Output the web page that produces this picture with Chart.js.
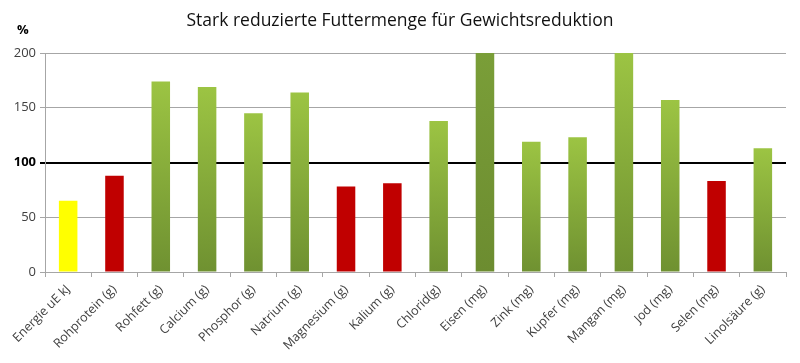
<!DOCTYPE html>
<html lang="de">
<head>
    <meta charset="UTF-8">
    <title>Stark reduzierte Futtermenge</title>
    <style>
        body { margin: 0; padding: 0; background: #fff; }
        #wrap { width: 800px; height: 363px; }
    </style>
</head>
<body>
    <div id="wrap"><canvas id="chart" width="800" height="363"></canvas></div>
    <script src="https://cdn.jsdelivr.net/npm/chart.js@4/dist/chart.umd.min.js"></script>
    <script>
        const categories = ['Energie uE kJ', 'Rohprotein (g)', 'Rohfett (g)', 'Calcium (g)', 'Phosphor (g)',
            'Natrium (g)', 'Magnesium (g)', 'Kalium (g)', 'Chlorid(g)', 'Eisen (mg)', 'Zink (mg)',
            'Kupfer (mg)', 'Mangan (mg)', 'Jod (mg)', 'Selen (mg)', 'Linolsäure (g)'];
        const percentValues = [65, 88, 174, 169, 145, 164, 78, 81, 138, 200, 119, 123, 200, 157, 83, 113];
        const yTicks = [0, 50, 100, 150, 200];
        // kind of bar: energy / below need / above need / above need (dark)
        const barKinds = ['energy', 'low', 'high', 'high', 'high', 'high', 'low', 'low',
            'high', 'dark', 'high', 'high', 'high', 'high', 'low', 'high'];

        const fontFamily = '"Open Sans", "DejaVu Sans", sans-serif';

        function barColor(ctx) {
            const kind = barKinds[ctx.dataIndex];
            if (kind === 'energy') return '#ffff00';
            if (kind === 'low') return '#c00000';
            const chart = ctx.chart;
            const y = chart.scales && chart.scales.y;
            if (!y || ctx.type !== 'data') return '#86a83f';
            const top = y.getPixelForValue(ctx.raw);
            const base = y.getPixelForValue(0);
            if (!isFinite(top) || !isFinite(base) || top === base) return '#86a83f';
            const g = chart.ctx.createLinearGradient(0, top, 0, base);
            if (kind === 'dark') {
                g.addColorStop(0, '#7a9e38');
                g.addColorStop(1, '#6c8c30');
            } else {
                g.addColorStop(0, '#9cc443');
                g.addColorStop(1, '#6f9131');
            }
            return g;
        }

        const percentLabel = {
            id: 'percentLabel',
            afterDraw(chart) {
                const c = chart.ctx;
                c.save();
                c.font = 'bold 13px ' + fontFamily;
                c.fillStyle = '#000';
                c.textAlign = 'left';
                c.textBaseline = 'middle';
                c.fillText('%', 17, 30);
                c.restore();
            }
        };

        new Chart(document.getElementById('chart').getContext('2d'), {
            type: 'bar',
            data: {
                labels: categories,
                datasets: [{
                    data: percentValues,
                    backgroundColor: barColor,
                    borderWidth: 0,
                    barPercentage: 0.4,
                    categoryPercentage: 1.0
                }]
            },
            plugins: [percentLabel],
            options: {
                responsive: false,
                animation: false,
                layout: { padding: { left: 14, right: 14, top: 0, bottom: 0 } },
                plugins: {
                    legend: { display: false },
                    tooltip: { enabled: false },
                    title: {
                        display: true,
                        text: 'Stark reduzierte Futtermenge für Gewichtsreduktion',
                        color: '#111',
                        font: { family: fontFamily, size: 17.5, weight: 'normal' },
                        padding: { top: 11, bottom: 21 }
                    }
                },
                scales: {
                    x: {
                        offset: true,
                        grid: {
                            offset: true,
                            drawOnChartArea: false,
                            drawTicks: true,
                            tickLength: 5,
                            color: '#a6a6a6'
                        },
                        border: { color: '#a6a6a6' },
                        ticks: {
                            minRotation: 45,
                            maxRotation: 45,
                            autoSkip: false,
                            padding: 5,
                            color: '#404040',
                            font: { family: fontFamily, size: 12.5 }
                        },
                        afterFit(scale) { scale.height = 91; }
                    },
                    y: {
                        min: 0,
                        max: 200,
                        afterBuildTicks(scale) { scale.ticks = yTicks.map(v => ({ value: v })); },
                        grid: {
                            tickLength: 5,
                            color: ctx => (ctx.tick && ctx.tick.value === 100) ? '#000' : '#a6a6a6',
                            lineWidth: ctx => (ctx.tick && ctx.tick.value === 100) ? 2 : 1
                        },
                        border: { color: '#a6a6a6' },
                        ticks: {
                            padding: 4,
                            color: ctx => (ctx.tick && ctx.tick.value === 100) ? '#000' : '#404040',
                            font: ctx => ({
                                family: fontFamily,
                                size: 13,
                                weight: (ctx.tick && ctx.tick.value === 100) ? 'bold' : 'normal'
                            })
                        },
                        afterFit(scale) { scale.width = 31; }
                    }
                }
            }
        });
    </script>
</body>
</html>
